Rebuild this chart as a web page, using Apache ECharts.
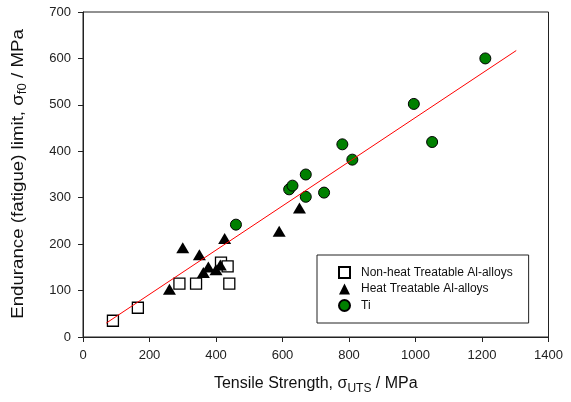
<!DOCTYPE html>
<html>
<head>
<meta charset="utf-8">
<script src="https://cdn.jsdelivr.net/npm/echarts@6/dist/echarts.min.js"></script>
<style>html,body{margin:0;padding:0;background:#fff}#c{width:571px;height:402px}</style>
</head>
<body>
<div id="c"></div>
<script>
// Non-heat treatable Al-alloys
const nonHeatX = [90, 165, 290, 340, 415, 435, 440];
const nonHeatY = [35, 63, 115, 115, 160, 152, 115];
// Heat treatable Al-alloys
const heatX = [260, 300, 350, 362, 377, 400, 413, 426, 590, 651];
const heatY = [103, 192, 177, 139, 151, 145, 155, 212, 228, 278];
// Ti
const tiX = [460, 620, 630, 670, 670, 725, 780, 810, 995, 1050, 1210];
const tiY = [242, 318, 326, 350, 302, 311, 415, 382, 502, 420, 600];
// trend line endpoints
const trendX = [70, 1303];
const trendY = [30, 617];

const legendNames = ['Non-heat Treatable Al-alloys', 'Heat Treatable Al-alloys', 'Ti'];
const xTickLabels = ['0', '200', '400', '600', '800', '1000', '1200', '1400'];
const yTickLabels = ['0', '100', '200', '300', '400', '500', '600', '700'];

const zip = (a, b) => a.map((v, i) => [v, b[i]]);
const font = 'Liberation Sans, Arial, sans-serif';

const chart = echarts.init(document.getElementById('c'), null, {renderer: 'canvas'});
chart.setOption({
  animation: false,
  backgroundColor: '#fff',
  grid: {left: 83, right: 22.5, top: 12, bottom: 65, show: true, borderColor: '#222', borderWidth: 1, backgroundColor: 'transparent'},
  xAxis: {
    type: 'value', min: 0, max: 1400, interval: 200,
    splitLine: {show: false},
    axisLine: {lineStyle: {color: '#222', width: 1}},
    axisTick: {show: true, inside: false, length: 5, lineStyle: {color: '#222'}},
    axisLabel: {color: '#222', fontSize: 13, fontFamily: font, margin: 12,
      formatter: (v) => xTickLabels[Math.round(v / 200)]},
    name: '{a|Tensile Strength, σ}{s|UTS}{a| / MPa}',
    nameLocation: 'middle', nameGap: 36,
    nameTextStyle: {
      fontFamily: font, color: '#111',
      rich: {
        a: {fontSize: 16, fontFamily: font, color: '#111'},
        s: {fontSize: 12, fontFamily: font, color: '#111', padding: [10, 0, 0, 0]}
      }
    }
  },
  yAxis: {
    type: 'value', min: 0, max: 700, interval: 100,
    splitLine: {show: false},
    axisLine: {show: true, lineStyle: {color: '#222', width: 1}},
    axisTick: {show: true, inside: false, length: 5, lineStyle: {color: '#222'}},
    axisLabel: {color: '#222', fontSize: 13, fontFamily: font, margin: 12,
      formatter: (v) => yTickLabels[Math.round(v / 100)]}
  },
  graphic: [{
    type: 'text',
    x: 18, y: 174, rotation: Math.PI / 2, scaleX: 1.1, scaleY: 1,
    style: {
      text: '{a|Endurance (fatigue) limit, σ}{s|f0}{a| / MPa}',
      align: 'center', verticalAlign: 'middle',
      fontFamily: font, fill: '#111',
      rich: {
        a: {fontSize: 17, fontFamily: font, fill: '#111'},
        s: {fontSize: 12, fontFamily: font, fill: '#111', padding: [10, 0, 0, 0]}
      }
    }
  }],
  legend: {
    data: legendNames,
    orient: 'vertical',
    left: 317, top: 255,
    padding: [11, 16, 11, 21],
    itemWidth: 11, itemHeight: 11, itemGap: 4,
    borderColor: '#222', borderWidth: 1,
    backgroundColor: '#fff',
    textStyle: {fontSize: 12, fontFamily: font, color: '#111', padding: [0, 0, 0, 6]}
  },
  series: [
    {
      name: legendNames[0], type: 'scatter', symbol: 'rect', symbolSize: 11,
      itemStyle: {color: '#fff', borderColor: '#000', borderWidth: 1.3, opacity: 1},
      data: zip(nonHeatX, nonHeatY), z: 2
    },
    {
      name: legendNames[1], type: 'scatter', symbol: 'triangle', symbolSize: [13, 11],
      itemStyle: {color: '#000', borderColor: '#000', borderWidth: 0, opacity: 1},
      data: zip(heatX, heatY), z: 2
    },
    {
      name: legendNames[2], type: 'scatter', symbol: 'circle', symbolSize: 11,
      itemStyle: {color: '#008000', borderColor: '#000', borderWidth: 1, opacity: 1},
      data: zip(tiX, tiY), z: 2
    },
    {
      name: 'fit', type: 'line', showSymbol: false, symbol: 'none',
      lineStyle: {color: '#ff0000', width: 1},
      data: zip(trendX, trendY), z: 3, silent: true
    }
  ]
});
</script>
</body>
</html>
